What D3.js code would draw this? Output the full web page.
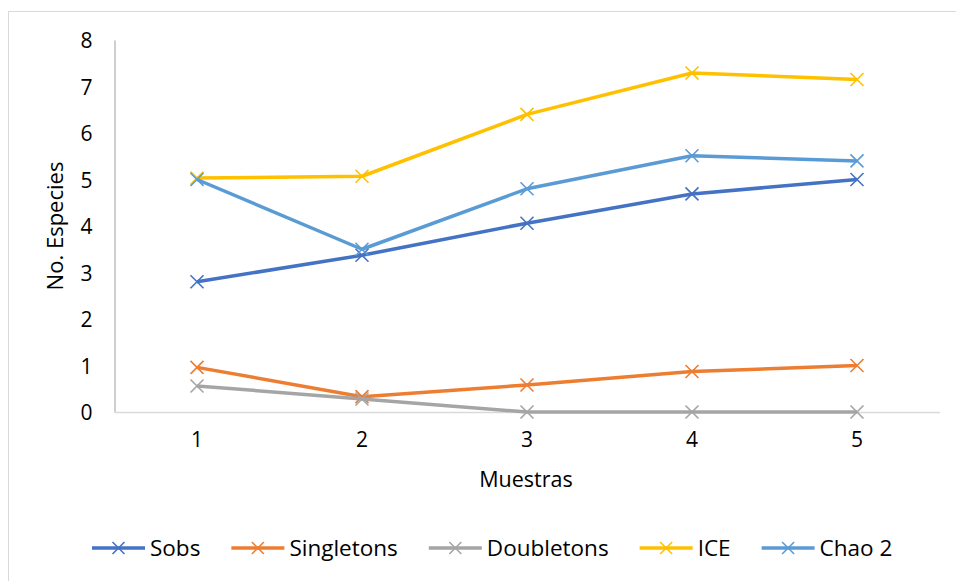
<!DOCTYPE html>
<html>
<head>
<meta charset="utf-8">
<script src="https://cdn.jsdelivr.net/npm/d3@7"></script>
<style>
  html, body { margin: 0; padding: 0; background: #fff; }
  svg { display: block; }
  text { font-family: "Open Sans", "Noto Sans", sans-serif; fill: #000; }
</style>
</head>
<body>
<svg id="chart" width="956" height="581"></svg>
<script>
// Sample numbers along the x axis
const muestras = [1, 2, 3, 4, 5];
const yTicks = [0, 1, 2, 3, 4, 5, 6, 7, 8];

// Species estimator series
const sobs       = [2.80, 3.37, 4.06, 4.69, 5.00];
const singletons = [0.96, 0.33, 0.58, 0.87, 1.00];
const doubletons = [0.56, 0.28, 0.00, 0.00, 0.00];
const ice        = [5.03, 5.07, 6.40, 7.29, 7.15];
const chao2      = [5.00, 3.50, 4.80, 5.51, 5.40];

const seriesNames  = ["Sobs", "Singletons", "Doubletons", "ICE", "Chao 2"];
const seriesValues = [sobs, singletons, doubletons, ice, chao2];
const seriesColors = ["#4472C4", "#ED7D31", "#A5A5A5", "#FFC000", "#5B9BD5"];

const svg = d3.select("#chart");

// chart frame
svg.append("rect")
  .attr("x", 8.5).attr("y", 11.5)
  .attr("width", 1000).attr("height", 1000)
  .attr("fill", "none").attr("stroke", "#d9d9d9").attr("stroke-width", 1);

const plot = { left: 114.5, right: 939.5, top: 40, bottom: 412 };

const x = d3.scaleBand()
  .domain(muestras)
  .range([plot.left, plot.right])
  .paddingInner(0).paddingOuter(0);
const xc = d => x(d) + x.bandwidth() / 2;

const y = d3.scaleLinear()
  .domain([0, 8])
  .range([plot.bottom, plot.top]);

// y axis (line + labels)
const yAxis = svg.append("g")
  .attr("transform", `translate(${plot.left},0)`)
  .call(d3.axisLeft(y).tickValues(yTicks).tickSize(0).tickPadding(22).tickFormat(d3.format("d")));
yAxis.select(".domain").attr("stroke", "#bfbfbf").attr("stroke-width", 1.5);
yAxis.selectAll("text").style("font-size", "21px").attr("dy", "0.36em");

// x axis (line + labels)
const xAxis = svg.append("g")
  .attr("transform", `translate(0,${plot.bottom})`)
  .call(d3.axisBottom(x).tickSize(0).tickPadding(20));
xAxis.select(".domain").attr("stroke", "#d9d9d9").attr("stroke-width", 1.5);
xAxis.selectAll("text").style("font-size", "21px");

// axis titles
svg.append("text")
  .attr("x", (plot.left + plot.right) / 2 - 1)
  .attr("y", 487)
  .attr("text-anchor", "middle")
  .style("font-size", "21.5px")
  .text("Muestras");

svg.append("text")
  .attr("transform", `translate(63,${(plot.top + plot.bottom) / 2}) rotate(-90)`)
  .attr("text-anchor", "middle")
  .style("font-size", "22px")
  .text("No. Especies");

const line = d3.line()
  .x((d, i) => xc(muestras[i]))
  .y(d => y(d));

const cross = (g, cx, cy, r, color) => {
  g.append("path")
    .attr("d", `M${cx - r},${cy - r}L${cx + r},${cy + r}M${cx - r},${cy + r}L${cx + r},${cy - r}`)
    .attr("stroke", color).attr("stroke-width", 1.6).attr("fill", "none");
};

seriesValues.forEach((vals, si) => {
  const g = svg.append("g");
  g.append("path")
    .datum(vals)
    .attr("d", line)
    .attr("fill", "none")
    .attr("stroke", seriesColors[si])
    .attr("stroke-width", 3.5)
    .attr("stroke-linejoin", "round");
  vals.forEach((v, i) => cross(g, xc(muestras[i]), y(v), 6.5, seriesColors[si]));
});

// legend
const legend = svg.append("g");
const legendY = 548;
let lx = 92;
seriesNames.forEach((name, i) => {
  const item = legend.append("g");
  item.append("line")
    .attr("x1", lx).attr("x2", lx + 53)
    .attr("y1", legendY).attr("y2", legendY)
    .attr("stroke", seriesColors[i]).attr("stroke-width", 3.5);
  cross(item, lx + 26.5, legendY, 6, seriesColors[i]);
  const t = item.append("text")
    .attr("x", lx + 58).attr("y", legendY)
    .attr("dy", "0.36em")
    .style("font-size", "22.5px")
    .text(name);
  lx += 58 + t.node().getComputedTextLength() + 31;
});
</script>
</body>
</html>
